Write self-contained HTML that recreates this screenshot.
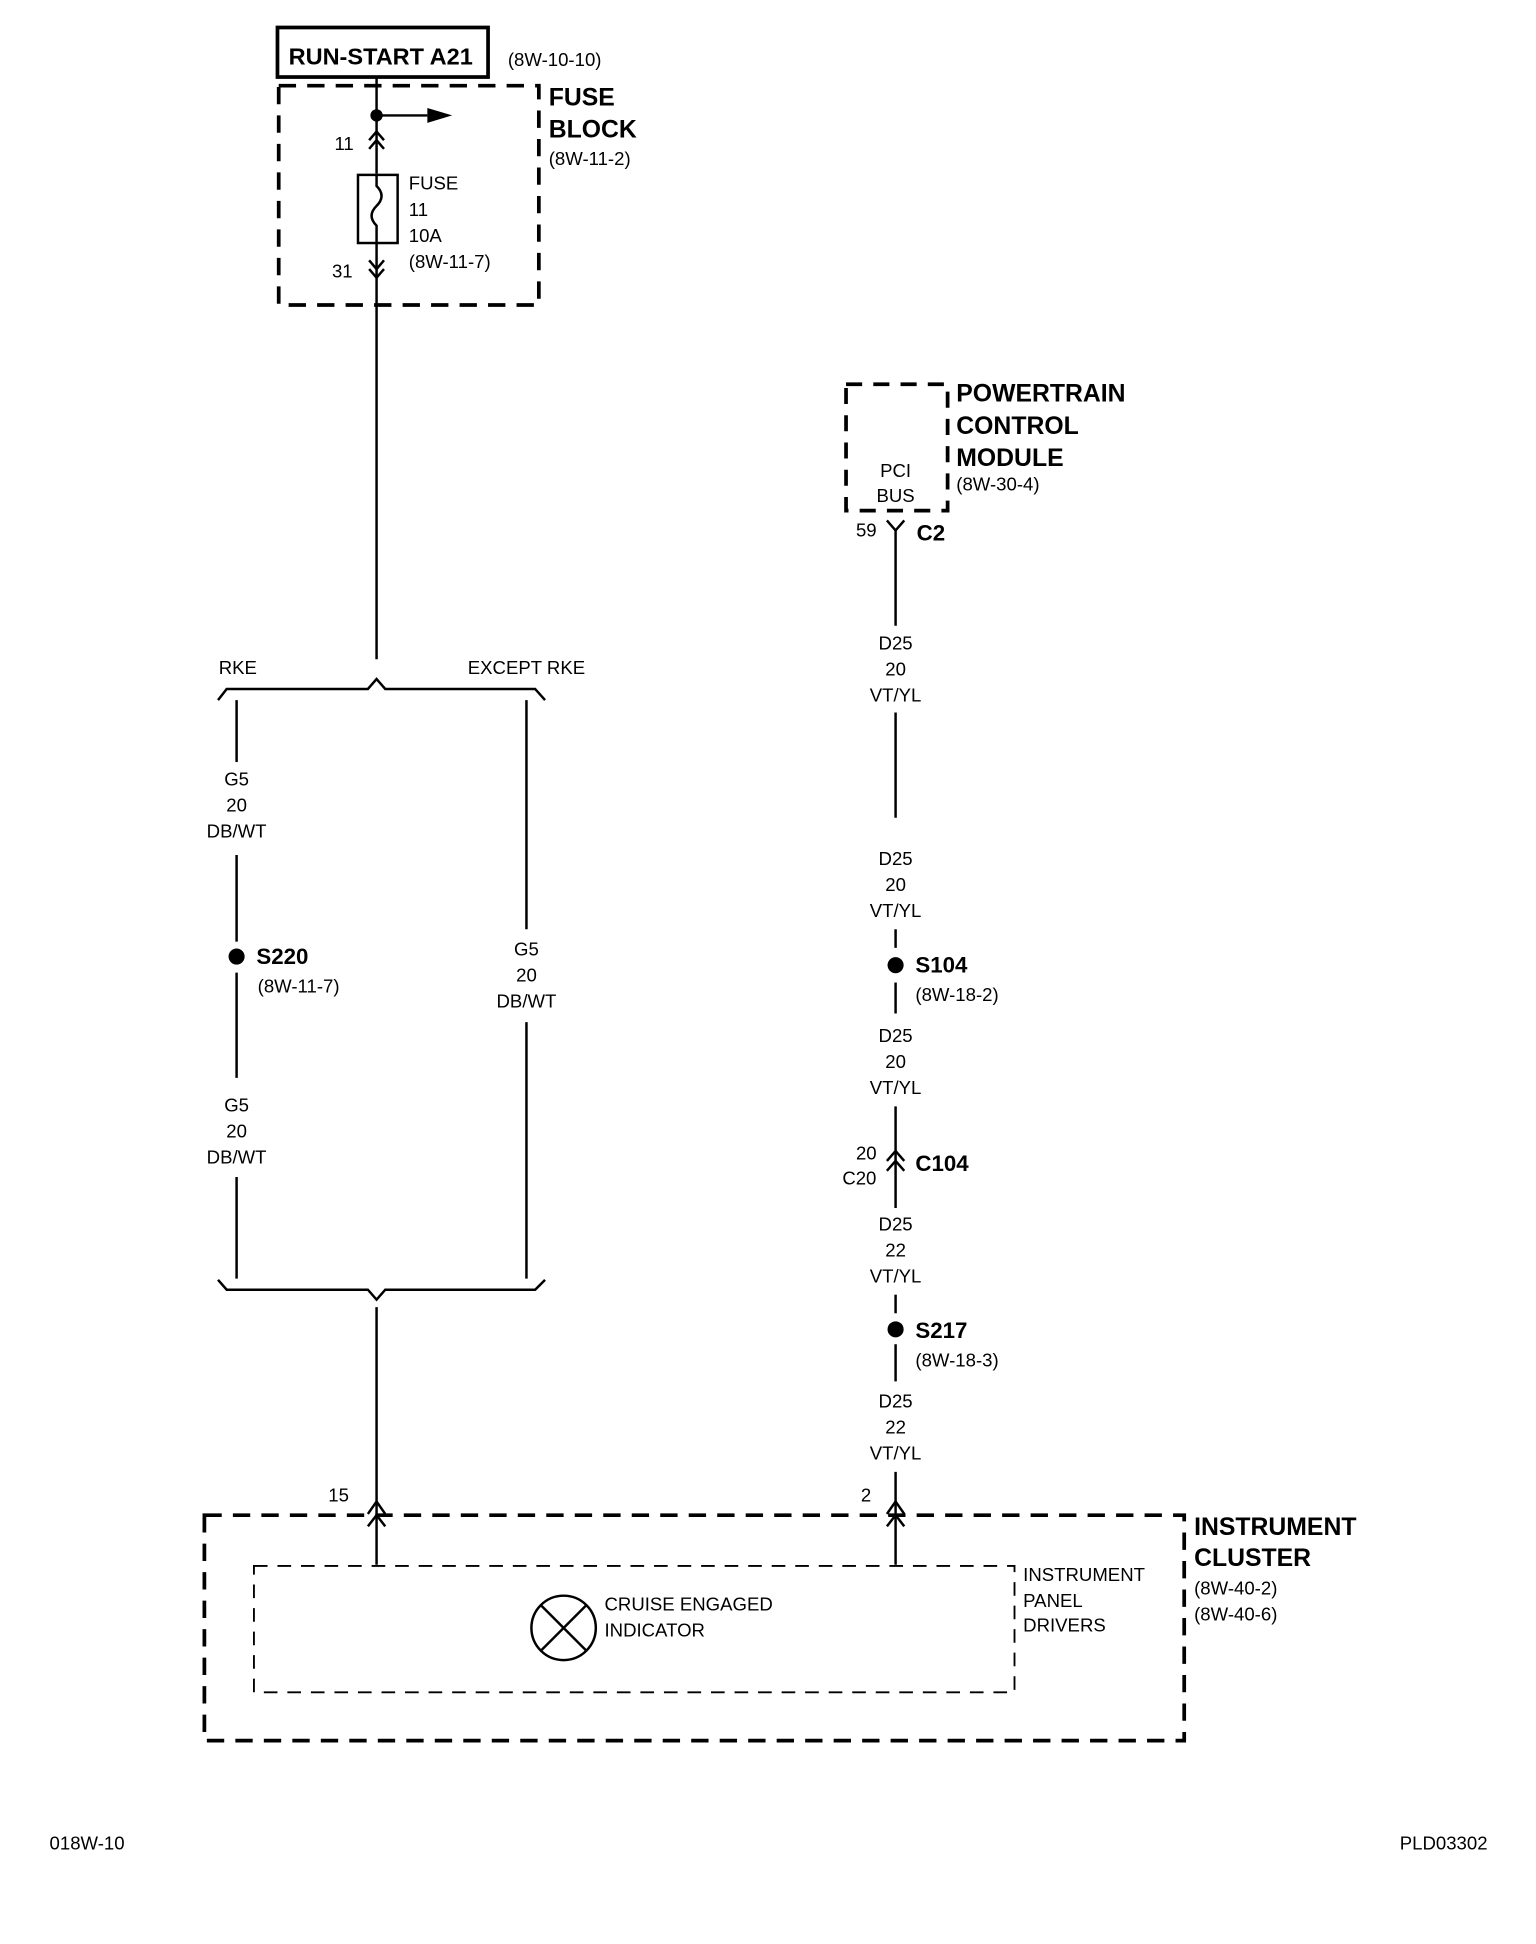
<!DOCTYPE html>
<html><head><meta charset="utf-8"><style>
html,body{margin:0;padding:0;background:#fff;}
svg{display:block;}
text{font-family:"Liberation Sans Narrow","Liberation Sans",sans-serif;fill:#000;font-size:15px;}
.b{font-weight:bold;font-size:20px;}
.m{text-anchor:middle;}
</style></head><body>
<svg width="1536" height="1944" viewBox="0 0 1240 1569" xmlns="http://www.w3.org/2000/svg">
<g fill="none" stroke="#000" stroke-width="2">
<!-- Run start box -->
<rect x="224" y="22" width="170" height="40" stroke-width="3"/>
<!-- fuse block dashed -->
<rect x="225" y="69" width="210" height="177" stroke-width="3" stroke-dasharray="14,9"/>
<line x1="304" y1="62" x2="304" y2="140"/>
<line x1="304" y1="93" x2="345" y2="93"/>
<line x1="298" y1="113" x2="304" y2="106"/><line x1="310" y1="113" x2="304" y2="106"/>
<line x1="298" y1="120" x2="304" y2="113"/><line x1="310" y1="120" x2="304" y2="113"/>
<rect x="289" y="141" width="32" height="55"/>
<path d="M304 141 V150 Q312 158 304 166 Q296 174 304 182 V196"/>
<line x1="304" y1="196" x2="304" y2="532"/>
<line x1="298" y1="210" x2="304" y2="217"/><line x1="310" y1="210" x2="304" y2="217"/>
<line x1="298" y1="217" x2="304" y2="224"/><line x1="310" y1="217" x2="304" y2="224"/>
<!-- top bracket -->
<path d="M176 565 L183 556 L297 556 L304 548 L311 556 L432 556 L440 565"/>
<line x1="191" y1="565" x2="191" y2="615"/>
<line x1="191" y1="690" x2="191" y2="760"/>
<line x1="191" y1="785" x2="191" y2="870"/>
<line x1="191" y1="950" x2="191" y2="1032"/>
<line x1="425" y1="565" x2="425" y2="750"/>
<line x1="425" y1="825" x2="425" y2="1032"/>
<!-- bottom bracket -->
<path d="M176 1033 L183 1041 L297 1041 L304 1049 L311 1041 L432 1041 L440 1033"/>
<line x1="304" y1="1055" x2="304" y2="1263"/>
<path d="M297 1222 L304 1212 L311 1222"/>
<path d="M297 1232 L304 1223 L311 1232"/>
<!-- PCM -->
<rect x="683" y="310" width="82" height="102" stroke-width="3" stroke-dasharray="13,9"/>
<path d="M716 420 L723 428 L730 420"/>
<line x1="723" y1="428" x2="723" y2="505"/>
<line x1="723" y1="575" x2="723" y2="660"/>
<line x1="723" y1="750" x2="723" y2="765"/>
<line x1="723" y1="793" x2="723" y2="818"/>
<line x1="723" y1="893" x2="723" y2="975"/>
<path d="M716 937 L723 929 L730 937"/>
<path d="M716 945 L723 937 L730 945"/>
<line x1="723" y1="1045" x2="723" y2="1060"/>
<line x1="723" y1="1085" x2="723" y2="1115"/>
<line x1="723" y1="1188" x2="723" y2="1263"/>
<path d="M716 1222 L723 1212 L730 1222"/>
<path d="M716 1232 L723 1223 L730 1232"/>
<!-- instrument cluster -->
<rect x="165" y="1223" width="791" height="182" stroke-width="3" stroke-dasharray="14,9"/>
<rect x="205" y="1264" width="614" height="102" stroke-width="1.5" stroke-dasharray="11,8"/>
<circle cx="455" cy="1314" r="26"/>
<line x1="437" y1="1296" x2="473" y2="1332"/><line x1="473" y1="1296" x2="437" y2="1332"/>
</g>
<g fill="#000">
<circle cx="304" cy="93" r="5"/>
<path d="M345 87 L365 93 L345 99 Z"/>
<circle cx="191" cy="772" r="6.5"/>
<circle cx="723" cy="779" r="6.5"/>
<circle cx="723" cy="1073" r="6.5"/>
</g>
<text x="233" y="52" class="b" style="font-size:19px">RUN-START A21</text>
<text x="410" y="53">(8W-10-10)</text>
<text x="443" y="85" class="b">FUSE</text>
<text x="443" y="111" class="b">BLOCK</text>
<text x="443" y="133">(8W-11-2)</text>
<text x="270" y="121">11</text>
<text x="330" y="153">FUSE</text>
<text x="330" y="174">11</text>
<text x="330" y="195">10A</text>
<text x="330" y="216">(8W-11-7)</text>
<text x="268" y="224">31</text>
<text x="192" y="544" class="m">RKE</text>
<text x="425" y="544" class="m">EXCEPT RKE</text>
<text x="191" y="634" class="m">G5</text><text x="191" y="655" class="m">20</text><text x="191" y="676" class="m">DB/WT</text>
<text x="207" y="778" class="b" style="font-size:18px">S220</text>
<text x="208" y="801">(8W-11-7)</text>
<text x="191" y="897" class="m">G5</text><text x="191" y="918" class="m">20</text><text x="191" y="939" class="m">DB/WT</text>
<text x="425" y="771" class="m">G5</text><text x="425" y="792" class="m">20</text><text x="425" y="813" class="m">DB/WT</text>
<text x="772" y="324" class="b">POWERTRAIN</text>
<text x="772" y="350" class="b">CONTROL</text>
<text x="772" y="376" class="b">MODULE</text>
<text x="772" y="396">(8W-30-4)</text>
<text x="723" y="385" class="m">PCI</text>
<text x="723" y="405" class="m">BUS</text>
<text x="691" y="433">59</text>
<text x="740" y="436" class="b" style="font-size:18px">C2</text>
<text x="723" y="524" class="m">D25</text><text x="723" y="545" class="m">20</text><text x="723" y="566" class="m">VT/YL</text>
<text x="723" y="698" class="m">D25</text><text x="723" y="719" class="m">20</text><text x="723" y="740" class="m">VT/YL</text>
<text x="739" y="785" class="b" style="font-size:18px">S104</text>
<text x="739" y="808">(8W-18-2)</text>
<text x="723" y="841" class="m">D25</text><text x="723" y="862" class="m">20</text><text x="723" y="883" class="m">VT/YL</text>
<text x="691" y="936">20</text>
<text x="680" y="956">C20</text>
<text x="739" y="945" class="b" style="font-size:18px">C104</text>
<text x="723" y="993" class="m">D25</text><text x="723" y="1014" class="m">22</text><text x="723" y="1035" class="m">VT/YL</text>
<text x="739" y="1080" class="b" style="font-size:18px">S217</text>
<text x="739" y="1103">(8W-18-3)</text>
<text x="723" y="1136" class="m">D25</text><text x="723" y="1157" class="m">22</text><text x="723" y="1178" class="m">VT/YL</text>
<text x="265" y="1212">15</text>
<text x="695" y="1212">2</text>
<text x="964" y="1239" class="b">INSTRUMENT</text>
<text x="964" y="1264" class="b">CLUSTER</text>
<text x="964" y="1287">(8W-40-2)</text>
<text x="964" y="1308">(8W-40-6)</text>
<text x="488" y="1300">CRUISE ENGAGED</text>
<text x="488" y="1321">INDICATOR</text>
<text x="826" y="1276">INSTRUMENT</text>
<text x="826" y="1297">PANEL</text>
<text x="826" y="1317">DRIVERS</text>
<text x="40" y="1493">018W-10</text>
<text x="1130" y="1493">PLD03302</text>
</svg>
</body></html>
